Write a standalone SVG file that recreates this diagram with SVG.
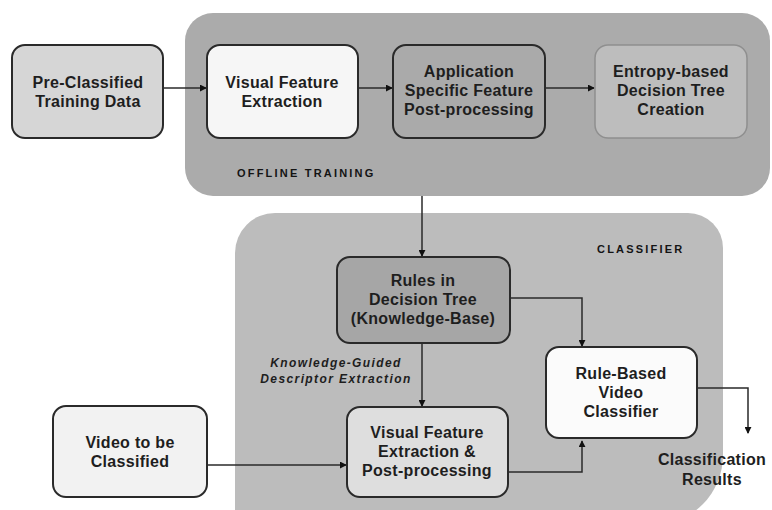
<svg xmlns="http://www.w3.org/2000/svg" width="772" height="510" viewBox="0 0 772 510">
  <defs>
    <marker id="arrow" viewBox="0 0 8 8" refX="7" refY="4" markerWidth="7" markerHeight="7" markerUnits="userSpaceOnUse" orient="auto">
      <path d="M0,0 L8,4 L0,8 Z" fill="#111"/>
    </marker>
  </defs>
  <style>
    .panel { stroke: none; }
    .node { stroke: #2a2a2a; stroke-width: 2; }
    .label { font-family: "Liberation Sans", Arial, sans-serif; font-weight: bold; font-size: 16px; letter-spacing: 0.3px; fill: #1e1e1e; text-anchor: middle; }
    .title { font-family: "Liberation Sans", Arial, sans-serif; font-weight: bold; font-size: 11px; letter-spacing: 2.2px; fill: #141414; }
    .note { font-family: "Liberation Sans", Arial, sans-serif; font-weight: bold; font-style: italic; font-size: 12px; letter-spacing: 1.4px; fill: #1e1e1e; text-anchor: middle; }
    .edge { fill: none; stroke: #2a2a2a; stroke-width: 1.5; marker-end: url(#arrow); }
  </style>

  <rect width="772" height="510" fill="#ffffff"/>

  <!-- Stage panels -->
  <g id="offline-training">
    <rect class="panel" x="185" y="13" width="585" height="183" rx="28" fill="#ababab"/>
    <text class="title" x="237" y="177">OFFLINE TRAINING</text>
  </g>
  <g id="classifier">
    <path class="panel" d="M275,213 H688 A35,35 0 0 1 723,248 V455 A70,70 0 0 1 653,525 H235 V253 A40,40 0 0 1 275,213 Z" fill="#bcbcbc"/>
    <text class="title" x="597" y="253">CLASSIFIER</text>
  </g>

  <!-- Connectors -->
  <g id="connectors">
    <path class="edge" d="M163,88 H206"/>
    <path class="edge" d="M358,88 H392"/>
    <path class="edge" d="M545,88 H594"/>
    <path class="edge" d="M422,196 V256"/>
    <path class="edge" d="M422,343 V406"/>
    <path class="edge" d="M510,298 H582 V346"/>
    <path class="edge" d="M508,472 H582 V441"/>
    <path class="edge" d="M697,388 H748 V433"/>
    <path class="edge" d="M207,465 H346"/>
  </g>

  <!-- Nodes -->
  <g id="pre-classified-data">
    <rect class="node" x="12" y="45" width="151" height="93" rx="13" fill="#d6d6d6"/>
    <text class="label" x="88" y="88">Pre-Classified</text>
    <text class="label" x="88" y="107">Training Data</text>
  </g>
  <g id="visual-feature-extraction">
    <rect class="node" x="207" y="45" width="151" height="93" rx="13" fill="#f6f6f6"/>
    <text class="label" x="282" y="88">Visual Feature</text>
    <text class="label" x="282" y="107">Extraction</text>
  </g>
  <g id="feature-post-processing">
    <rect class="node" x="393" y="45" width="152" height="93" rx="13" fill="#aaaaaa"/>
    <text class="label" x="469" y="77">Application</text>
    <text class="label" x="469" y="96">Specific Feature</text>
    <text class="label" x="469" y="115">Post-processing</text>
  </g>
  <g id="decision-tree-creation">
    <rect x="595" y="45" width="152" height="93" rx="13" fill="#bdbdbd" stroke="#8f8f8f" stroke-width="1.5"/>
    <text class="label" x="671" y="77" fill="#2e2e2e">Entropy-based</text>
    <text class="label" x="671" y="96" fill="#2e2e2e">Decision Tree</text>
    <text class="label" x="671" y="115" fill="#2e2e2e">Creation</text>
  </g>
  <g id="decision-tree-rules">
    <rect class="node" x="337" y="257" width="173" height="86" rx="13" fill="#a6a6a6"/>
    <text class="label" x="423" y="286">Rules in</text>
    <text class="label" x="423" y="305">Decision Tree</text>
    <text class="label" x="423" y="324">(Knowledge-Base)</text>
  </g>
  <g id="descriptor-extraction-note">
    <text class="note" x="336" y="367">Knowledge-Guided</text>
    <text class="note" x="336" y="383">Descriptor Extraction</text>
  </g>
  <g id="video-feature-extraction">
    <rect class="node" x="347" y="407" width="161" height="90" rx="13" fill="#dedede"/>
    <text class="label" x="427" y="438">Visual Feature</text>
    <text class="label" x="427" y="457">Extraction &amp;</text>
    <text class="label" x="427" y="476">Post-processing</text>
  </g>
  <g id="video-input">
    <rect class="node" x="53" y="406" width="154" height="91" rx="13" fill="#f2f2f2"/>
    <text class="label" x="130" y="448">Video to be</text>
    <text class="label" x="130" y="467">Classified</text>
  </g>
  <g id="rule-based-classifier">
    <rect class="node" x="546" y="347" width="151" height="91" rx="13" fill="#fbfbfb"/>
    <text class="label" x="621" y="379">Rule-Based</text>
    <text class="label" x="621" y="398">Video</text>
    <text class="label" x="621" y="417">Classifier</text>
  </g>
  <g id="classification-results">
    <text class="label" x="712" y="465">Classification</text>
    <text class="label" x="712" y="485">Results</text>
  </g>
</svg>
